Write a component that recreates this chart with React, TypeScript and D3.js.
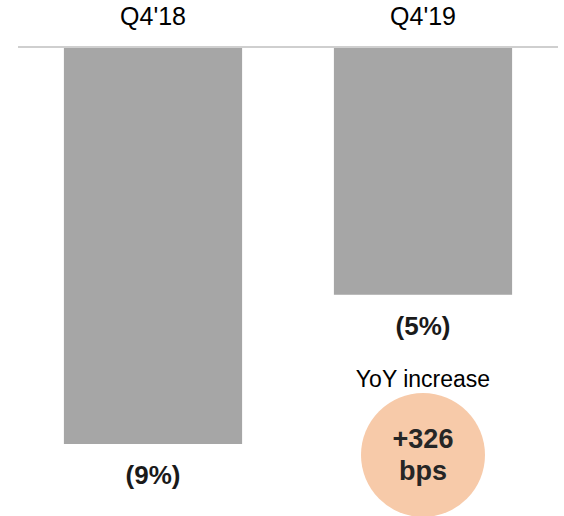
import React from "react";
import * as d3 from "d3";

// Operating margin by quarter (percent)
const categories = ["Q4'18", "Q4'19"];
const values = [-8.65, -5.39];
const changeLabel = "YoY increase";

const W = 564;
const H = 516;
const FONT = "Liberation Sans, Arial, sans-serif";

export default function App() {
  const x = d3
    .scaleBand<string>()
    .domain(categories)
    .range([18, 558])
    .paddingInner(0.34)
    .paddingOuter(0.17);

  const y = d3.scaleLinear().domain([0, d3.min(values) as number]).range([48, 444]);

  const fmt = (v: number) => `(${Math.round(Math.abs(v))}%)`;
  const bps = Math.round((values[1] - values[0]) * 100);
  const cx = (x(categories[1]) as number) + x.bandwidth() / 2;

  return (
    <svg
      width={W}
      height={H}
      style={{ position: "absolute", left: 0, top: 0 }}
      fontFamily={FONT}
    >
      {categories.map((c, i) => {
        const bx = x(c) as number;
        const mid = bx + x.bandwidth() / 2;
        return (
          <g key={c}>
            <rect
              x={bx}
              y={y(0)}
              width={x.bandwidth()}
              height={y(values[i]) - y(0)}
              fill="#a6a6a6"
            />
            <text x={mid} y={25} textAnchor="middle" fontSize={25} fill="#000">
              {c}
            </text>
            <text
              x={mid}
              y={y(values[i]) + 40}
              textAnchor="middle"
              fontSize={26}
              fontWeight="bold"
              fill="#1a1a1a"
            >
              {fmt(values[i])}
            </text>
          </g>
        );
      })}
      <line x1={18} x2={558} y1={47} y2={47} stroke="#bfbfbf" strokeWidth={1.5} />
      <text x={cx} y={387} textAnchor="middle" fontSize={23} fill="#000">
        {changeLabel}
      </text>
      <circle cx={cx} cy={455} r={62} fill="#f7caa9" />
      <text x={cx} y={448} textAnchor="middle" fontSize={27} fontWeight="bold" fill="#262626">
        {`+${bps}`}
      </text>
      <text x={cx} y={480} textAnchor="middle" fontSize={27} fontWeight="bold" fill="#262626">
        bps
      </text>
    </svg>
  );
}
